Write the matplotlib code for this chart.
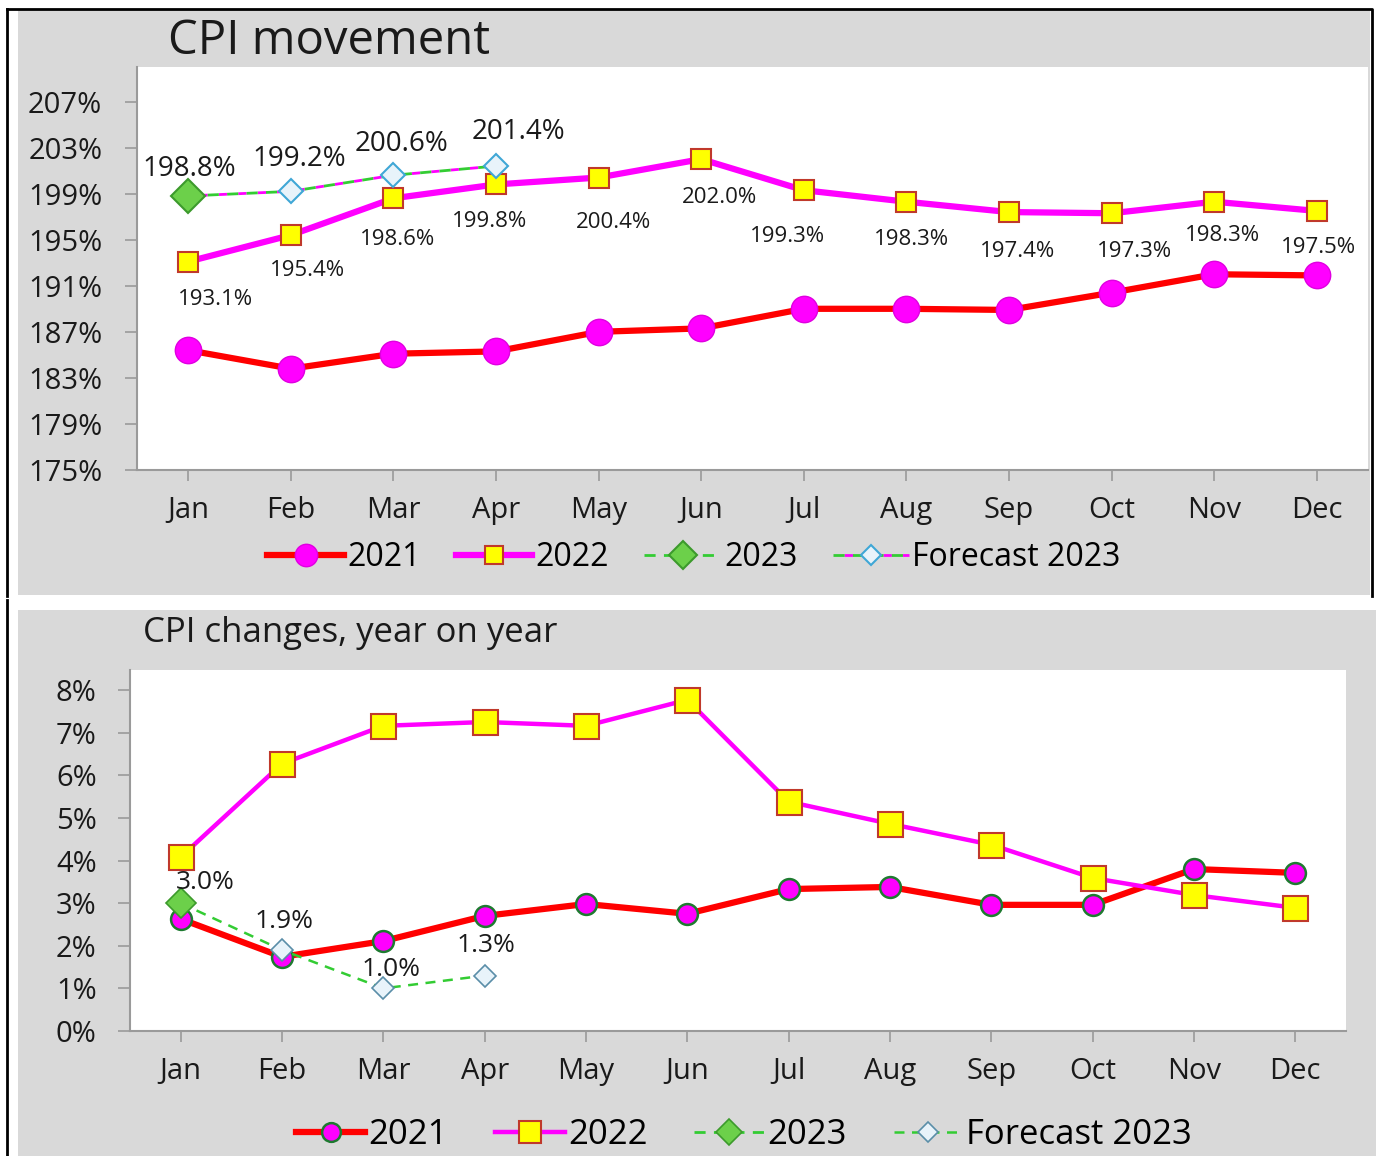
import matplotlib
matplotlib.use("Agg")
import matplotlib.pyplot as plt
from matplotlib.patches import Rectangle
from matplotlib.lines import Line2D

plt.rcParams["font.family"] = ["Open Sans", "DejaVu Sans"]

# =====================================================
# DATA
# =====================================================
months = ["Jan", "Feb", "Mar", "Apr", "May", "Jun",
          "Jul", "Aug", "Sep", "Oct", "Nov", "Dec"]

# CPI movement (index, %)
cpi_2021 = [185.4, 183.8, 185.1, 185.3, 187.0, 187.3,
            189.0, 189.0, 188.9, 190.4, 192.0, 191.9]
cpi_2022 = [193.1, 195.4, 198.6, 199.8, 200.4, 202.0,
            199.3, 198.3, 197.4, 197.3, 198.3, 197.5]
cpi_2023 = [198.8]
cpi_fc_2023 = [198.8, 199.2, 200.6, 201.4]

# CPI changes, year on year (%)
yoy_2021 = [2.63, 1.74, 2.11, 2.70, 2.98, 2.75,
            3.33, 3.38, 2.96, 2.96, 3.80, 3.71]
yoy_2022 = [4.08, 6.27, 7.16, 7.25, 7.16, 7.77,
            5.38, 4.86, 4.37, 3.59, 3.19, 2.89]
yoy_2023 = [3.0]
yoy_fc_2023 = [3.0, 1.9, 1.0, 1.3]

top_yticks = [175, 179, 183, 187, 191, 195, 199, 203, 207]
bot_yticks = [0, 1, 2, 3, 4, 5, 6, 7, 8]

# label offsets in pixels (dx, dy downwards)
off_2022 = [(27, 38), (17, 35), (4, 41), (-6, 37), (15, 45), (18, 38),
            (-16, 46), (5, 38), (9, 39), (23, 38), (8, 34), (2, 37)]
off_fc_top = [(1, -27), (8, -32), (8, -31), (22, -34)]
off_fc_bot = [(25, -21), (2, -29), (8, -19), (1, -30)]

# =====================================================
# COLORS
# =====================================================
RED = "#FF0000"
MAG = "#FF00FF"
YEL = "#FFFF00"
SQ_EDGE = "#C0392B"
GREEN_F = "#6CD04A"
GREEN_E = "#3C9A2C"
GREEN_L = "#33CC33"
FC_FILL = "#E8F3FA"
BG = "#D9D9D9"
AX_GRAY = "#9A9A9A"
TXT = "#1a1a1a"

W, H = 1376, 1156
fig = plt.figure(figsize=(W / 100, H / 100), dpi=100)


def fx(px):
    return px / W


def fy(py):
    return 1 - py / H


def box(x0, y0, x1, y1, z, **kw):
    fig.patches.append(Rectangle((fx(x0), fy(y1)), fx(x1 - x0), (y1 - y0) / H,
                                 transform=fig.transFigure, zorder=z, **kw))


# panels
box(18, 10, 1370, 595, -2, facecolor=BG, edgecolor="none")
box(18, 610, 1376, 1156, -2, facecolor=BG, edgecolor="none")
fig.add_artist(Line2D([fx(7), fx(1372), fx(1372)], [fy(9), fy(9), fy(596)],
                      color="black", lw=2, transform=fig.transFigure))
fig.add_artist(Line2D([fx(7), fx(7)], [fy(9), fy(596)],
                      color="black", lw=2, transform=fig.transFigure))
fig.add_artist(Line2D([fx(7), fx(7)], [fy(600), fy(1156)],
                      color="black", lw=2, transform=fig.transFigure))


def style_axes(ax, yticks, ylim, tick_pad, xpad):
    ax.set_zorder(1)
    ax.set_facecolor("white")
    ax.set_xlim(-0.5, 11.5)
    ax.set_ylim(*ylim)
    for s in ["top", "right"]:
        ax.spines[s].set_visible(False)
    for s in ["left", "bottom"]:
        ax.spines[s].set_color(AX_GRAY)
        ax.spines[s].set_linewidth(1.5)
    ax.set_xticks(range(12))
    ax.set_xticklabels(months)
    ax.set_yticks(yticks)
    ax.set_yticklabels([f"{t}%" for t in yticks])
    ax.tick_params(axis="y", length=9, width=1.2, color=AX_GRAY,
                   pad=tick_pad, labelsize=21, labelcolor=TXT)
    ax.tick_params(axis="x", length=8, width=1.2, color=AX_GRAY,
                   pad=xpad, labelsize=21, labelcolor=TXT)


# =====================================================
# 1. TOP CHART - CPI movement
# =====================================================
ax1 = fig.add_axes([fx(137), fy(470), fx(1368 - 137), (470 - 67) / H])
style_axes(ax1, top_yticks, (175, 210), 16, 11)

x = list(range(12))
l21, = ax1.plot(x, cpi_2021, color=RED, lw=4.5, marker="o", ms=19,
                mfc=MAG, mec="#E000E0", mew=1, zorder=3, label="2021")
l22, = ax1.plot(x, cpi_2022, color=MAG, lw=4.5, marker="s", ms=15,
                mfc=YEL, mec=SQ_EDGE, mew=1.5, zorder=4, label="2022")
lfc, = ax1.plot(range(len(cpi_fc_2023)), cpi_fc_2023, color=GREEN_L, lw=2,
                ls=(0, (4, 3)), gapcolor=MAG, marker="D", ms=12, mfc=FC_FILL,
                mec="#3FA7D6", mew=1.5, zorder=5, label="Forecast 2023")
l23, = ax1.plot(range(len(cpi_2023)), cpi_2023, color=GREEN_L, lw=2,
                ls=(0, (4, 3)), marker="D", ms=17, mfc=GREEN_F, mec=GREEN_E,
                mew=1.5, zorder=6, label="2023")

for i, v in enumerate(cpi_2022):
    dx, dy = off_2022[i]
    ax1.annotate(f"{v:.1f}%", (i, v), xytext=(dx * 0.72, -dy * 0.72),
                 textcoords="offset points", ha="center", va="center",
                 fontsize=16, color=TXT, zorder=7)
for i, v in enumerate(cpi_fc_2023):
    dx, dy = off_fc_top[i]
    ax1.annotate(f"{v:.1f}%", (i, v), xytext=(dx * 0.72, -dy * 0.72),
                 textcoords="offset points", ha="center", va="center",
                 fontsize=20, color=TXT, zorder=7)

# title box over the plot area
box(165, 18, 500, 66, 2, facecolor=BG, edgecolor="none")
fig.text(fx(168), fy(41), "CPI movement", fontsize=34, color=TXT,
         ha="left", va="center", zorder=3)

fig.legend(handles=[l21, l22, l23, lfc], loc="center",
           bbox_to_anchor=(fx(694), fy(558)), ncol=4, frameon=False,
           fontsize=23, handlelength=2.4, handletextpad=0.1,
           columnspacing=1.1, markerscale=0.85)

# =====================================================
# 2. BOTTOM CHART - CPI changes, year on year
# =====================================================
ax2 = fig.add_axes([fx(130), fy(1031), fx(1346 - 130), (1031 - 670) / H])
style_axes(ax2, bot_yticks, (0, 8.47), 15, 11)

m21, = ax2.plot(x, yoy_2021, color=RED, lw=4.5, marker="o", ms=15,
                mfc=MAG, mec="#1E7A30", mew=1.8, zorder=3, label="2021")
m22, = ax2.plot(x, yoy_2022, color=MAG, lw=3.2, marker="s", ms=18,
                mfc=YEL, mec=SQ_EDGE, mew=1.5, zorder=4, label="2022")
m23, = ax2.plot(range(len(yoy_2023)), yoy_2023, color=GREEN_L, lw=2,
                ls=(0, (4, 3)), marker="D", ms=15, mfc=GREEN_F, mec=GREEN_E,
                mew=1.2, zorder=6, label="2023")
mfc, = ax2.plot(range(len(yoy_fc_2023)), yoy_fc_2023, color=GREEN_L, lw=1.8,
                ls=(0, (4, 3)), marker="D", ms=11, mfc=FC_FILL,
                mec="#5A8EA8", mew=1.2, zorder=5, label="Forecast 2023")

for i, v in enumerate(yoy_fc_2023):
    dx, dy = off_fc_bot[i]
    ax2.annotate(f"{v:.1f}%", (i, v), xytext=(dx * 0.72, -dy * 0.72),
                 textcoords="offset points", ha="center", va="center",
                 fontsize=19, color=TXT, zorder=7)

fig.text(fx(143), fy(633), "CPI changes, year on year", fontsize=25,
         color=TXT, ha="left", va="center")

fig.legend(handles=[m21, m22, m23, mfc], loc="center",
           bbox_to_anchor=(fx(744), fy(1135)), ncol=4, frameon=False,
           fontsize=25, handlelength=2.0, handletextpad=0.1,
           columnspacing=1.35, markerscale=0.9)

fig.savefig("out.png", dpi=100)
